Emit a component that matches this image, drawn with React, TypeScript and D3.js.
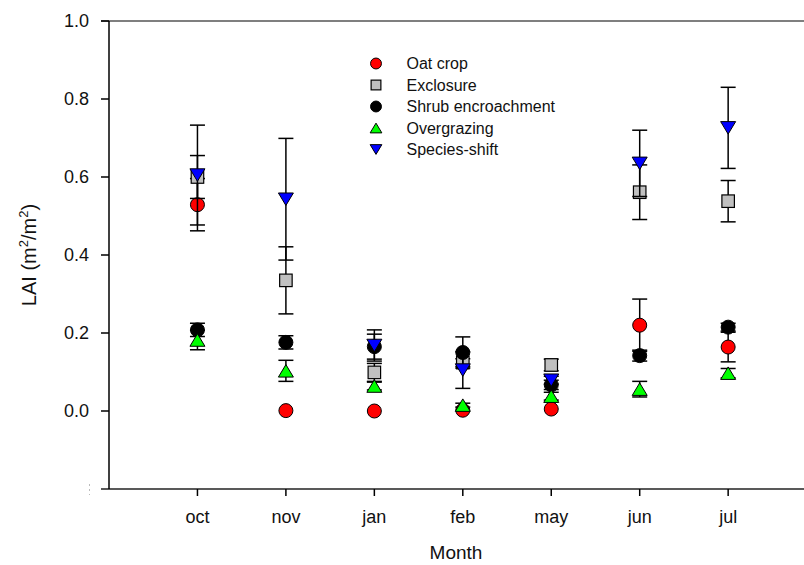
import React from "react";
import * as d3 from "d3";

const months = ["oct", "nov", "jan", "feb", "may", "jun", "jul"];
const seriesNames = ["Oat crop", "Exclosure", "Shrub encroachment", "Overgrazing", "Species-shift"];
const seriesColors = ["#ff0000", "#c0c0c0", "#000000", "#00ff00", "#0000ff"];
const seriesShapes = ["circle", "square", "circle", "triangleUp", "triangleDown"];

const oatCrop = [0.529, 0.001, 0.0, 0.002, 0.005, 0.22, 0.164];
const oatCropErr = [0.067, 0.0, 0.0, 0.0, 0.0, 0.067, 0.038];
const exclosure = [0.6, 0.335, 0.099, 0.124, 0.118, 0.561, 0.538];
const exclosureErr = [0.055, 0.086, 0.023, 0.01, 0.015, 0.07, 0.053];
const shrub = [0.208, 0.176, 0.165, 0.15, 0.067, 0.142, 0.215];
const shrubErr = [0.017, 0.017, 0.032, 0.04, 0.012, 0.014, 0.01];
const overgrazing = [0.182, 0.103, 0.064, 0.015, 0.038, 0.056, 0.097];
const overgrazingErr = [0.025, 0.027, 0.01, 0.005, 0.01, 0.02, 0.012];
const speciesShift = [0.605, 0.543, 0.168, 0.105, 0.079, 0.635, 0.726];
const speciesShiftErr = [0.128, 0.156, 0.04, 0.047, 0.01, 0.085, 0.104];

const seriesValues = [oatCrop, exclosure, shrub, overgrazing, speciesShift];
const seriesErrors = [oatCropErr, exclosureErr, shrubErr, overgrazingErr, speciesShiftErr];

const yTicks = [0.0, 0.2, 0.4, 0.6, 0.8, 1.0];

const W = 804;
const H = 565;
const FONT = "Liberation Sans, Arial, sans-serif";

function Marker({ shape, x, y, color, s }: { shape: string; x: number; y: number; color: string; s: number }) {
  const stroke = "#000";
  if (shape === "circle") {
    return <circle cx={x} cy={y} r={7 * s} fill={color} stroke={stroke} strokeWidth={1} />;
  }
  if (shape === "square") {
    const a = 12.5 * s;
    return <rect x={x - a / 2} y={y - a / 2} width={a} height={a} fill={color} stroke={stroke} strokeWidth={1.2} />;
  }
  const w = 15 * s;
  const h = 12.5 * s;
  if (shape === "triangleUp") {
    const p = `${x - w / 2},${y + h / 2} ${x + w / 2},${y + h / 2} ${x},${y - h / 2}`;
    return <polygon points={p} fill={color} stroke={stroke} strokeWidth={1} />;
  }
  const p = `${x - w / 2},${y - h / 2} ${x + w / 2},${y - h / 2} ${x},${y + h / 2}`;
  return <polygon points={p} fill={color} stroke={stroke} strokeWidth={1} />;
}

export default function App() {
  const x = d3.scaleLinear().domain([0, 8]).range([109, 816.6]);
  const y = d3.scaleLinear().domain([-0.2, 1.0]).range([489, 21]);
  const left = x(0);
  const top = y(1.0);
  const bottom = y(-0.2);
  const capHalf = 7.5;

  return (
    <svg width={W} height={H} style={{ position: "absolute", left: 0, top: 0, background: "#fff" }}>
      {/* frame lines */}
      <line x1={left - 8} x2={W} y1={top} y2={top} stroke="#555" strokeWidth={1.5} />
      <line x1={left - 8} x2={W} y1={bottom} y2={bottom} stroke="#222" strokeWidth={1.5} />
      <line x1={left} x2={left} y1={top} y2={bottom} stroke="#000" strokeWidth={1.5} />

      {/* y ticks */}
      {yTicks.map((t) => (
        <g key={t}>
          <line x1={left - 8} x2={left} y1={y(t)} y2={y(t)} stroke="#000" strokeWidth={1.5} />
          <text x={left - 20} y={y(t)} dy="0.35em" textAnchor="end" fontFamily={FONT} fontSize={18} fill="#111">
            {d3.format(".1f")(t)}
          </text>
        </g>
      ))}
      <line x1={89.5} x2={89.5} y1={484} y2={495} stroke="#bbb" strokeWidth={1} strokeDasharray="2,3" />

      {/* x ticks */}
      {months.map((m, i) => (
        <g key={m}>
          <line x1={x(i + 1)} x2={x(i + 1)} y1={bottom} y2={bottom + 7} stroke="#000" strokeWidth={1.5} />
          <text x={x(i + 1)} y={522.5} textAnchor="middle" fontFamily={FONT} fontSize={18} fill="#111">
            {m}
          </text>
        </g>
      ))}

      {/* axis titles */}
      <text x={456} y={559} textAnchor="middle" fontFamily={FONT} fontSize={19} fill="#111">
        Month
      </text>
      <text
        transform={`translate(36,${255}) rotate(-90)`}
        textAnchor="middle"
        fontFamily={FONT}
        fontSize={20}
        fill="#111"
      >
        LAI (m
        <tspan fontSize={13} dy={-8}>2</tspan>
        <tspan dy={8}>/m</tspan>
        <tspan fontSize={13} dy={-8}>2</tspan>
        <tspan dy={8}>)</tspan>
      </text>

      {/* series */}
      {seriesValues.map((vals, si) => (
        <g key={seriesNames[si]}>
          {vals.map((v, i) => {
            const e = seriesErrors[si][i];
            const cx = x(i + 1);
            if (e <= 0) return null;
            return (
              <g key={i} stroke="#000" strokeWidth={1.5}>
                <line x1={cx} x2={cx} y1={y(v + e)} y2={y(v - e)} />
                <line x1={cx - capHalf} x2={cx + capHalf} y1={y(v + e)} y2={y(v + e)} />
                <line x1={cx - capHalf} x2={cx + capHalf} y1={y(v - e)} y2={y(v - e)} />
              </g>
            );
          })}
          {vals.map((v, i) => (
            <Marker key={i} shape={seriesShapes[si]} x={x(i + 1)} y={y(v)} color={seriesColors[si]} s={1} />
          ))}
        </g>
      ))}

      {/* legend */}
      {seriesNames.map((n, si) => {
        const ly = 63.5 + si * 21.5;
        return (
          <g key={n}>
            <Marker shape={seriesShapes[si]} x={376} y={ly} color={seriesColors[si]} s={0.78} />
            <text x={406.5} y={ly} dy="0.35em" fontFamily={FONT} fontSize={16} fill="#111">
              {n}
            </text>
          </g>
        );
      })}
    </svg>
  );
}
